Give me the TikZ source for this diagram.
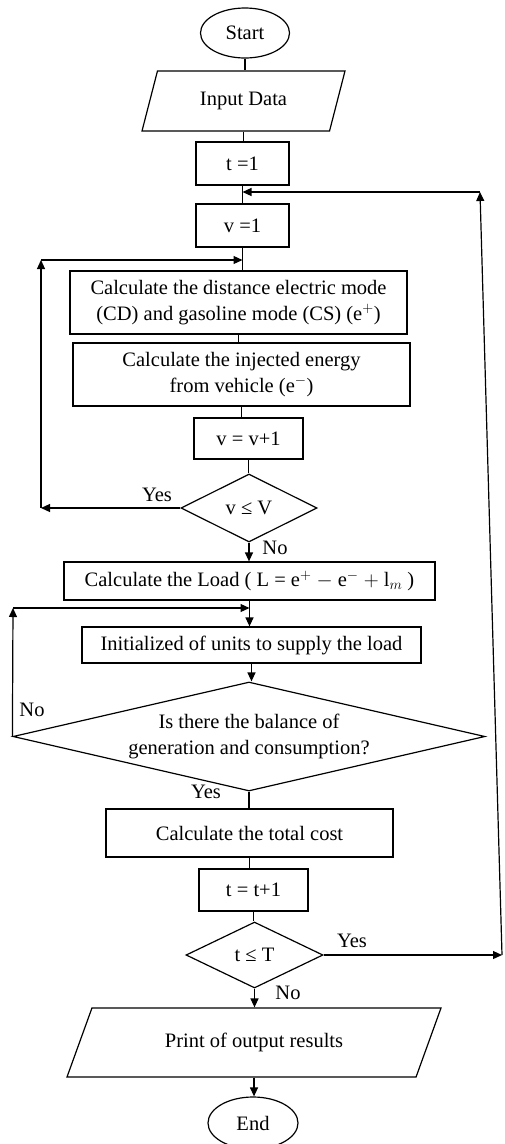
\documentclass[tikz,border=0pt]{standalone}
\usepackage{fontspec}
\setmainfont{Liberation Serif}
\usetikzlibrary{shapes.geometric,arrows.meta}

\begin{document}
\begin{tikzpicture}[x=1pt,y=-1pt,
        every node/.style={font=\fontsize{20.5}{25.5}\selectfont},
        box/.style={draw, line width=1.2pt, inner sep=0pt, align=center},
        term/.style={draw, ellipse, line width=1.2pt, inner sep=0pt},
        io/.style={draw, trapezium, trapezium stretches body, line width=1.2pt, inner sep=0pt},
        decision/.style={draw, diamond, line width=1.2pt, inner sep=0pt, align=center},
        conn/.style={line width=1.2pt},
        arr/.style={conn, -{Triangle[length=9pt,width=8pt]}}]
        \useasboundingbox (0,0) rectangle (504,1144);

        % Draw terminals and inputs
        \node[term, minimum width=89pt, minimum height=50pt] (start) at (245,33) {Start};
        \node[io, trapezium left angle=49, trapezium right angle=131,
              minimum width=203pt, minimum height=60pt] (input) at (243.5,101) {Input Data};

        % Draw first loop boxes
        \node[box, minimum width=93pt, minimum height=43pt] (t1) at (242.5,163.5) {t =1};
        \node[box, minimum width=93pt, minimum height=43pt] (v1) at (242.5,225.5) {v =1};
        \node[box, minimum width=337pt, minimum height=63pt] (cd) at (238.5,302.5)
            {Calculate the distance electric mode\\(CD) and gasoline mode (CS) (e$^{+}$)};
        \node[box, minimum width=337pt, minimum height=63pt] (inj) at (241.5,374.5)
            {Calculate the injected energy\\from vehicle (e$^{-}$)};
        \node[box, minimum width=109pt, minimum height=41pt] (vinc) at (248.5,438.5) {v = v+1};
        \node[decision, shape aspect=2, minimum width=136pt, minimum height=68pt] (dv) at (249,508) {v ≤ V};

        % Draw load and balance
        \node[box, minimum width=371pt, minimum height=38pt] (load) at (249.5,581)
            {Calculate the Load ( L = e$^{+}$ $-$ e$^{-}$ $+$ l$_{m}$ )};
        \node[box, minimum width=339pt, minimum height=36pt] (init) at (251.5,645)
            {Initialized of units to supply the load};
        \node[decision, shape aspect=4.33, minimum width=472pt, minimum height=109pt] (bal) at (249,736.5)
            {Is there the balance of\\generation and consumption?};
        \node[box, minimum width=287pt, minimum height=48pt] (cost) at (249.5,833)
            {Calculate the total cost};
        \node[box, minimum width=109pt, minimum height=42pt] (tinc) at (253.5,890) {t = t+1};
        \node[decision, shape aspect=2.07, minimum width=137pt, minimum height=66pt] (dt) at (254.5,955) {t ≤ T};

        % Draw output and end
        \node[io, trapezium left angle=37, trapezium right angle=143,
              minimum width=374pt, minimum height=69pt] (print) at (254,1042.5)
            {Print of output results};
        \node[term, minimum width=90pt, minimum height=52pt] (end) at (253,1123) {End};

        % Draw labels
        \node (yes1) at (157,495) {Yes};
        \node (no1) at (275,548) {No};
        \node (no2) at (32,710) {No};
        \node (yes2) at (206,792) {Yes};
        \node (yes3) at (352,941) {Yes};
        \node (no3) at (288,993) {No};

        % Loop corners
        \coordinate (loopB) at (41,508);
        \coordinate (loopT) at (41,260);
        \coordinate (loop2T) at (13,608);
        \coordinate (back1) at (502,955);
        \coordinate (back2) at (480,192);

        % Draw main column
        \draw[conn] (start.south) -- (start.south |- input.north);
        \draw[conn] (input.south) -- (input.south |- t1.north);
        \draw[conn] (t1.south) -- (t1.south |- v1.north);
        \draw[conn] (v1.south) -- (v1.south |- cd.north);
        \draw[conn] (cd.south) -- (cd.south |- inj.north);
        \draw[conn] (inj.south) -- (inj.south |- vinc.north);
        \draw[conn] (vinc.south) -- (vinc.south |- dv.north);
        \draw[arr] (dv.south) -- (dv.south |- load.north);
        \draw[arr] (load.south) -- (load.south |- init.north);
        \draw[arr] (init.south) -- (init.south |- bal.north);
        \draw[conn] (bal.south) -- (bal.south |- cost.north);
        \draw[conn] (cost.south) -- (cost.south |- tinc.north);
        \draw[conn] (tinc.south) -- (tinc.south |- dt.north);
        \draw[arr] (dt.south) -- (dt.south |- print.north);
        \draw[arr] (print.south) -- (print.south |- end.north);

        % Draw vehicle loop
        \draw[arr] (dv.west) -- (loopB);
        \draw[arr] (loopB) -- (loopT);
        \draw[arr] (loopT) -- (v1.south |- loopT);

        % Draw balance loop
        \draw[arr] (bal.west) -- (loop2T);
        \draw[arr] (loop2T) -- (load.south |- loop2T);

        % Draw time loop
        \draw[arr] (dt.east) -- (back1);
        \draw[arr] (back1) -- (back2);
        \draw[arr] (back2) -- (t1.south |- back2);
\end{tikzpicture}
\end{document}
